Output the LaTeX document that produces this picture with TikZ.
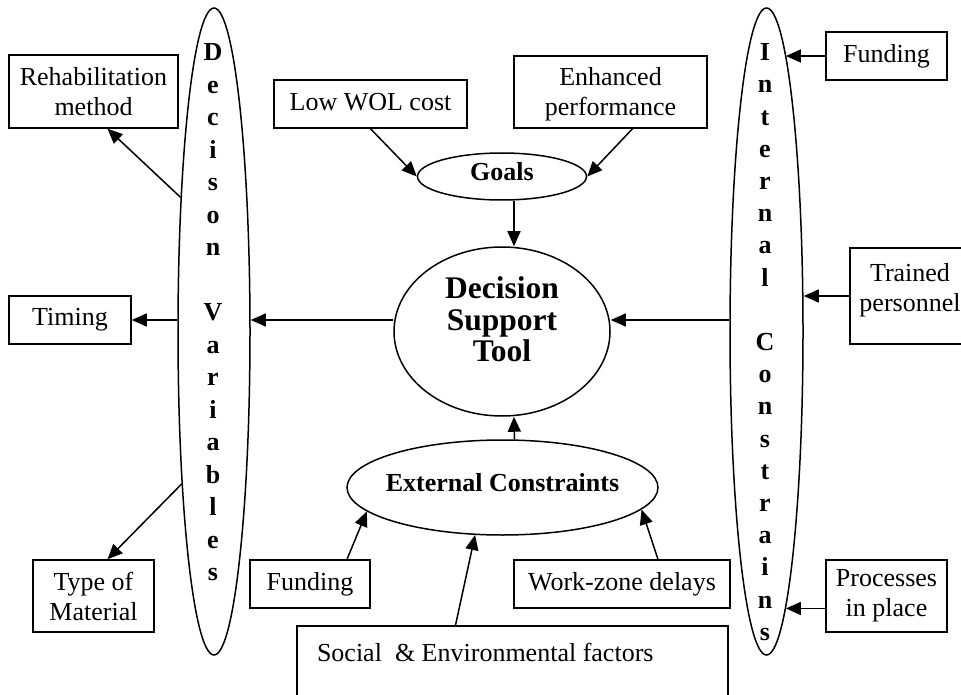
\documentclass[tikz,border=0pt]{standalone}
\usepackage{fontspec}
\setmainfont{Liberation Serif}
\usetikzlibrary{shapes.geometric,arrows.meta}

\begin{document}
\begin{tikzpicture}%
  [x=1pt,y=-1pt,line width=1.5pt,>={Triangle[length=15pt,width=13pt]}]
  \tikzstyle{box node}=[rectangle,draw,inner sep=0,align=center,font=\fontsize{26}{30}\selectfont]
  \tikzstyle{oval node}=[ellipse,draw,inner sep=0,align=center,font=\bfseries\fontsize{26}{30}\selectfont]
  \tikzstyle{letter node}=[inner sep=0,align=center,anchor=north,font=\bfseries\fontsize{26}{32.5}\selectfont]
  \clip (0,0) rectangle (961,695);
  \node(dv)[oval node,minimum width=72pt,minimum height=647pt] at (214,331.5){};
  \node(ic)[oval node,minimum width=73pt,minimum height=647pt] at (766.5,331.5){};
  \node(dvtext)[letter node] at (213,43)
    {D\\e\\c\\i\\s\\o\\n\\[32.5pt]V\\a\\r\\i\\a\\b\\l\\e\\s};
  \node(ictext)[letter node,font=\bfseries\fontsize{26}{32.2}\selectfont] at (765,43)
    {I\\n\\t\\e\\r\\n\\a\\l\\[32.2pt]C\\o\\n\\s\\t\\r\\a\\i\\n\\s};
  \node(goals)[oval node,minimum width=169pt,minimum height=47pt,text depth=11pt] at (502,176.5){Goals};
  \node(dst)[oval node,minimum width=216pt,minimum height=169pt,text depth=24pt,
    font=\bfseries\fontsize{31.5}{31.5}\selectfont] at (502,331.5){Decision\\Support\\Tool};
  \node(ext)[oval node,minimum width=311pt,minimum height=95pt,text depth=11pt] at (502.5,487.5)
    {\makebox[0pt]{External Constraints}};
  \node(rehab)[box node,minimum width=169pt,minimum height=73pt] at (93.5,91.5){Rehabilitation\\method};
  \node(timing)[box node,minimum width=122pt,minimum height=48pt] at (70,320){Timing};
  \node(type)[box node,minimum width=121pt,minimum height=72pt] at (93.5,596){Type of\\Material};
  \node(low)[box node,minimum width=193pt,minimum height=48pt,text depth=5pt] at (370.5,104){Low WOL cost};
  \node(enh)[box node,minimum width=193pt,minimum height=72pt,text depth=2pt] at (610.5,92){Enhanced\\performance};
  \node(funR)[box node,minimum width=121pt,minimum height=48pt] at (886.5,56){Funding};
  \node(trained)[box node,minimum width=120pt,minimum height=96pt,text depth=18pt] at (910,296){Trained\\personnel};
  \node(proc)[box node,minimum width=121pt,minimum height=72pt] at (886.5,596){Processes\\in place};
  \node(fundB)[box node,minimum width=120pt,minimum height=48pt] at (310,584){Funding};
  \node(work)[box node,minimum width=216pt,minimum height=48pt] at (622,584){Work-zone delays};
  \node(social)[box node,minimum width=431pt,minimum height=89pt,text depth=37pt] at (512.5,670.5)
    {\makebox[391pt][l]{Social\ \ \& Environmental factors}};
  \draw[->] (dv.104) -- ([xshift=14pt]rehab.south);
  \draw[->] (dv.west |- timing) -- (timing);
  \draw[->] (dv.258) -- ([xshift=14pt]type.north);
  \draw[->] (dst.west |- timing) -- (dv.east |- timing);
  \draw[->] (ic.west |- timing) -- (dst.east |- timing);
  \draw[->] (low.south) -- (goals.west);
  \draw[->] ([xshift=22pt]enh.south) -- (goals.east);
  \draw[->] ([xshift=12pt]goals.south) -- ([xshift=12pt]dst.north);
  \draw[->] ([xshift=12pt]ext.north) -- ([xshift=12pt]dst.south);
  \draw[->] ([xshift=37pt]fundB.north) -- (ext.190);
  \draw[->] ([xshift=36pt]work.north) -- (ext.351);
  \draw[->] ([xshift=-57pt]social.north) -- (ext.240);
  \draw[->] (funR) -- (funR -| ic.86);
  \draw[->] (trained) -- (trained -| ic.east);
  \draw[->] (ic.274 -| proc.west) -- (ic.274);
\end{tikzpicture}
\end{document}
